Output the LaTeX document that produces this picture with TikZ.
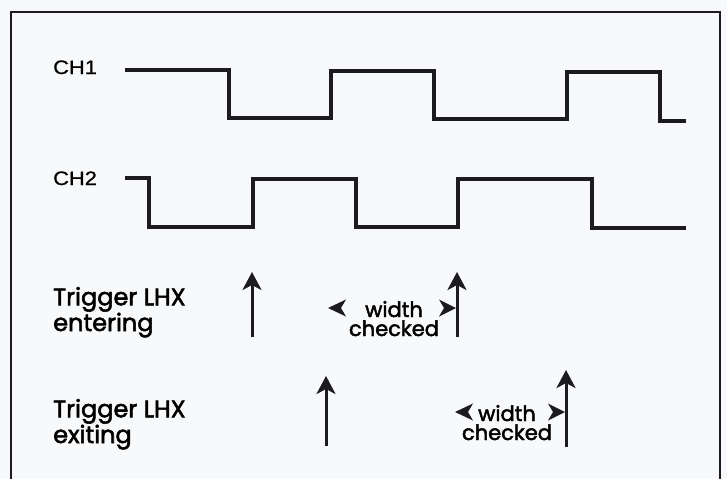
\documentclass[tikz,border=0pt]{standalone}
\usepackage{fontspec}
\setmainfont{Poppins}[FakeBold=2.2]
\newfontfamily\chfont{Liberation Sans}[FakeBold=0.8]
\usetikzlibrary{arrows.meta}
\definecolor{paper}{RGB}{248,249,251}
\definecolor{ink}{RGB}{28,28,30}
\tikzset{
  wave/.style={ink, line width=3.4pt, line join=miter},
  frame/.style={ink, line width=2pt},
  trig/.style={ink, line width=3pt, -{Stealth[length=18pt,width=19pt,inset=5pt]}},
  chlabel/.style={font=\chfont\fontsize{19.5}{19.5}\selectfont, anchor=base west, inner sep=0pt, xscale=1.12},
  trlabel/.style={font=\fontsize{24}{22}\selectfont, anchor=base west, inner sep=0pt, align=left},
  wclabel/.style={font=\fontsize{21}{19}\selectfont, anchor=base, inner sep=0pt, align=center}
}
\begin{document}
\begin{tikzpicture}[x=1pt,y=-1pt]
\useasboundingbox (0,0) rectangle (727,479);
\fill[paper] (0,0) rectangle (727,479);
\draw[frame] (11,479) -- (11,12) -- (720,12) -- (720,479);
% labels
\node[chlabel] (ch1) at (53,74) {CH1};
\node[chlabel] (ch2) at (53,185) {CH2};
\node[trlabel] (ten) at (53,331) {Trigger LHX\\entering};
\node[trlabel] (tex) at (53,443) {Trigger LHX\\exiting};
% waveforms
\draw[wave] (125,70) -- (229,70) -- (229,118) -- (331,118) -- (331,71) -- (434,71)
  -- (434,119) -- (567,119) -- (567,72) -- (660,72) -- (660,121) -- (686,121);
\draw[wave] (125,178) -- (149,178) -- (149,227) -- (253,227) -- (253,179) -- (356,179)
  -- (356,227) -- (458,227) -- (458,179) -- (592,179) -- (592,228) -- (686,228);
% entering trigger arrows
\coordinate (e1b) at (252,337); \coordinate (e1t) at (252,272);
\coordinate (e2b) at (457,337); \coordinate (e2t) at (457,272);
\draw[trig] (e1b) -- (e1t);
\draw[trig] (e2b) -- (e2t);
\node[wclabel] (wc1) at (394,336) {width\\checked};
\coordinate (wc1lt) at (328,308);
\coordinate (wc1rt) at (456,308);
\fill[ink] (wc1lt) -- ++(18,-8.5) -- ++(-5,8.5) -- ++(5,8.5) -- cycle;
\fill[ink] (wc1rt) -- ++(-17,-8.5) -- ++(5,8.5) -- ++(-5,8.5) -- cycle;
% exiting trigger arrows
\coordinate (x1b) at (326,446); \coordinate (x1t) at (326,376);
\coordinate (x2b) at (566,447); \coordinate (x2t) at (566,370);
\draw[trig] (x1b) -- (x1t);
\draw[trig] (x2b) -- (x2t);
\node[wclabel] (wc2) at (507,440) {width\\checked};
\coordinate (wc2lt) at (455,412);
\coordinate (wc2rt) at (565,412);
\fill[ink] (wc2lt) -- ++(18,-8.5) -- ++(-5,8.5) -- ++(5,8.5) -- cycle;
\fill[ink] (wc2rt) -- ++(-17,-8.5) -- ++(5,8.5) -- ++(-5,8.5) -- cycle;
\end{tikzpicture}
\end{document}
